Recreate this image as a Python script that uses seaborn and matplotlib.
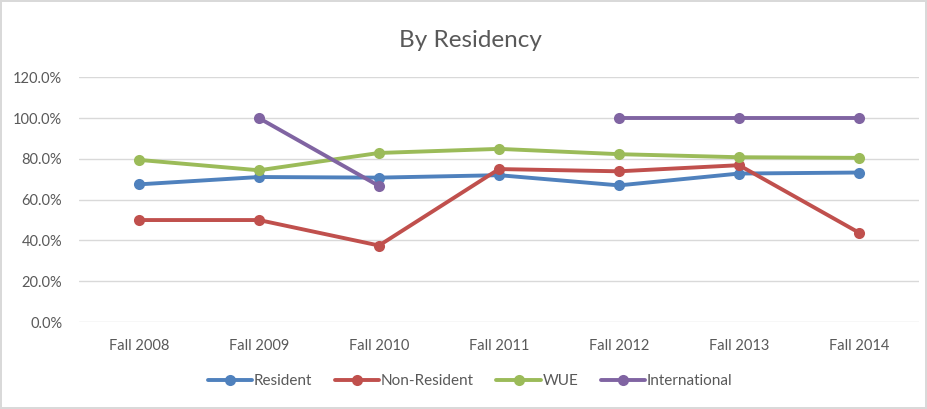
import seaborn as sns
import matplotlib.pyplot as plt
from matplotlib.ticker import PercentFormatter
import numpy as np
import pandas as pd

terms = ["Fall 2008", "Fall 2009", "Fall 2010", "Fall 2011", "Fall 2012", "Fall 2013", "Fall 2014"]
resident = [0.675, 0.711, 0.708, 0.720, 0.670, 0.728, 0.733]
non_resident = [0.500, 0.500, 0.375, 0.750, 0.739, 0.769, 0.438]
wue = [0.795, 0.744, 0.829, 0.849, 0.823, 0.808, 0.805]
international = [np.nan, 1.000, 0.667, np.nan, 1.000, 1.000, 1.000]

series_names = ["Resident", "Non-Resident", "WUE", "International"]
colors = ["#4F81BD", "#C0504D", "#9BBB59", "#8064A2"]

# long table, with a segment id so gaps (NaN) break the line
frames = []
for name, vals in zip(series_names, [resident, non_resident, wue, international]):
    d = pd.DataFrame({"term": terms, "rate": vals, "series": name})
    d["seg"] = d["rate"].isna().cumsum()
    frames.append(d.dropna())
df = pd.concat(frames, ignore_index=True)

sns.set_style("white")
plt.rcParams["font.family"] = ["Lato", "DejaVu Sans"]

fig = plt.figure(figsize=(9.27, 4.09), dpi=100)
fig.patch.set_edgecolor("#D9D9D9")
fig.patch.set_linewidth(1.5)
ax = fig.add_axes([0.0852, 0.2127, 0.9062, 0.5983])

sns.lineplot(data=df, x="term", y="rate", hue="series", units="seg", estimator=None,
             palette=colors, marker="o", markersize=8, markeredgewidth=0,
             linewidth=2.8, ax=ax, sort=False)

ax.set_xlim(-0.5, len(terms) - 0.5)
ax.set_ylim(0, 1.2)
ax.set_yticks(np.arange(0, 1.21, 0.2))
ax.yaxis.set_major_formatter(PercentFormatter(1, decimals=1))
ax.grid(axis="y", color="#D9D9D9", linewidth=1)
ax.set_axisbelow(True)
for s in ax.spines.values():
    s.set_visible(False)
ax.tick_params(axis="both", length=0, labelsize=10.5, colors="#595959")
ax.tick_params(axis="x", pad=12)
ax.tick_params(axis="y", pad=12)
ax.set_xlabel("")
ax.set_ylabel("")

fig.text(0.507, 0.902, "By Residency", ha="center", va="center", fontsize=17.5, color="#595959")

leg = ax.legend(loc="center", ncol=4, frameon=False, fontsize=11, handlelength=2.9,
                handletextpad=0.1, columnspacing=1.5, labelcolor="#595959")
leg.set_bbox_to_anchor((0.507, 0.068), fig.transFigure)

fig.savefig("out.png", dpi=100)
